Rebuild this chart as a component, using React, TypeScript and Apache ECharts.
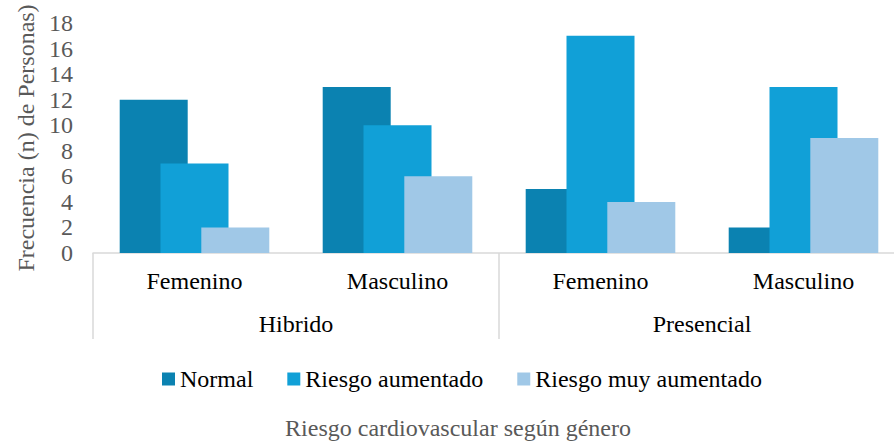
import React, { useEffect, useRef } from "react";
import * as echarts from "echarts";

const genders = ["Femenino", "Masculino", "Femenino", "Masculino"];
const modalities = ["Hibrido", "Presencial"];
const normal = [12, 13, 5, 2];
const riesgoAumentado = [7, 10, 17, 13];
const riesgoMuyAumentado = [2, 6, 4, 9];
const seriesNames = ["Normal", "Riesgo aumentado", "Riesgo muy aumentado"];
const colors = ["#0b82b1", "#11a0d7", "#a0c8e7"];

const FONT = "Liberation Serif";
const FS = 24;

export default function App() {
  const ref = useRef<HTMLDivElement>(null);
  useEffect(() => {
    if (!ref.current) return;
    const chart = echarts.init(ref.current, undefined, { renderer: "svg" });
    const barCommon = {
      type: "bar" as const,
      barWidth: 68,
      barGap: "-40%",
    };
    chart.setOption({
      animation: false,
      color: colors,
      title: {
        text: "Riesgo cardiovascular según género",
        left: 458,
        textAlign: "center",
        top: 416,
        padding: 0,
        textStyle: { fontFamily: FONT, fontSize: FS, fontWeight: "normal", color: "#595959" },
      },
      legend: {
        data: seriesNames,
        left: 162,
        top: 367,
        padding: 0,
        itemWidth: 13,
        itemHeight: 13,
        itemGap: 34,
        icon: "rect",
        textStyle: { fontFamily: FONT, fontSize: FS, color: "#000" },
      },
      grid: { left: 93, top: 23, width: 812, height: 230, outerBoundsMode: "none", containLabel: false },
      xAxis: [
        {
          type: "category",
          data: genders,
          position: "bottom",
          axisLine: { lineStyle: { color: "#d9d9d9", width: 1.5 } },
          axisTick: { show: false },
          axisLabel: { fontFamily: FONT, fontSize: FS, color: "#000", margin: 16, interval: 0 },
        },
        {
          type: "category",
          data: modalities,
          position: "bottom",
          axisLine: { show: false },
          axisTick: { show: true, length: 86, lineStyle: { color: "#d9d9d9", width: 1.5 } },
          axisLabel: { fontFamily: FONT, fontSize: FS, color: "#000", margin: 59, interval: 0 },
        },
      ],
      yAxis: {
        type: "value",
        min: 0,
        max: 18,
        interval: 2,
        splitLine: { show: false },
        axisLine: { show: false },
        axisTick: { show: false },
        axisLabel: { fontFamily: FONT, fontSize: FS, color: "#595959", margin: 20 },
        name: "Frecuencia (n) de Personas)",
        nameLocation: "middle",
        nameRotate: 90,
        nameGap: 55,
        nameTextStyle: { fontFamily: FONT, fontSize: FS, color: "#595959" },
      },
      series: [
        { ...barCommon, name: seriesNames[0], data: normal },
        { ...barCommon, name: seriesNames[1], data: riesgoAumentado },
        { ...barCommon, name: seriesNames[2], data: riesgoMuyAumentado },
      ],
    });
    return () => chart.dispose();
  }, []);
  return <div ref={ref} style={{ width: 894, height: 442, position: "absolute", left: 0, top: 0 }} />;
}
